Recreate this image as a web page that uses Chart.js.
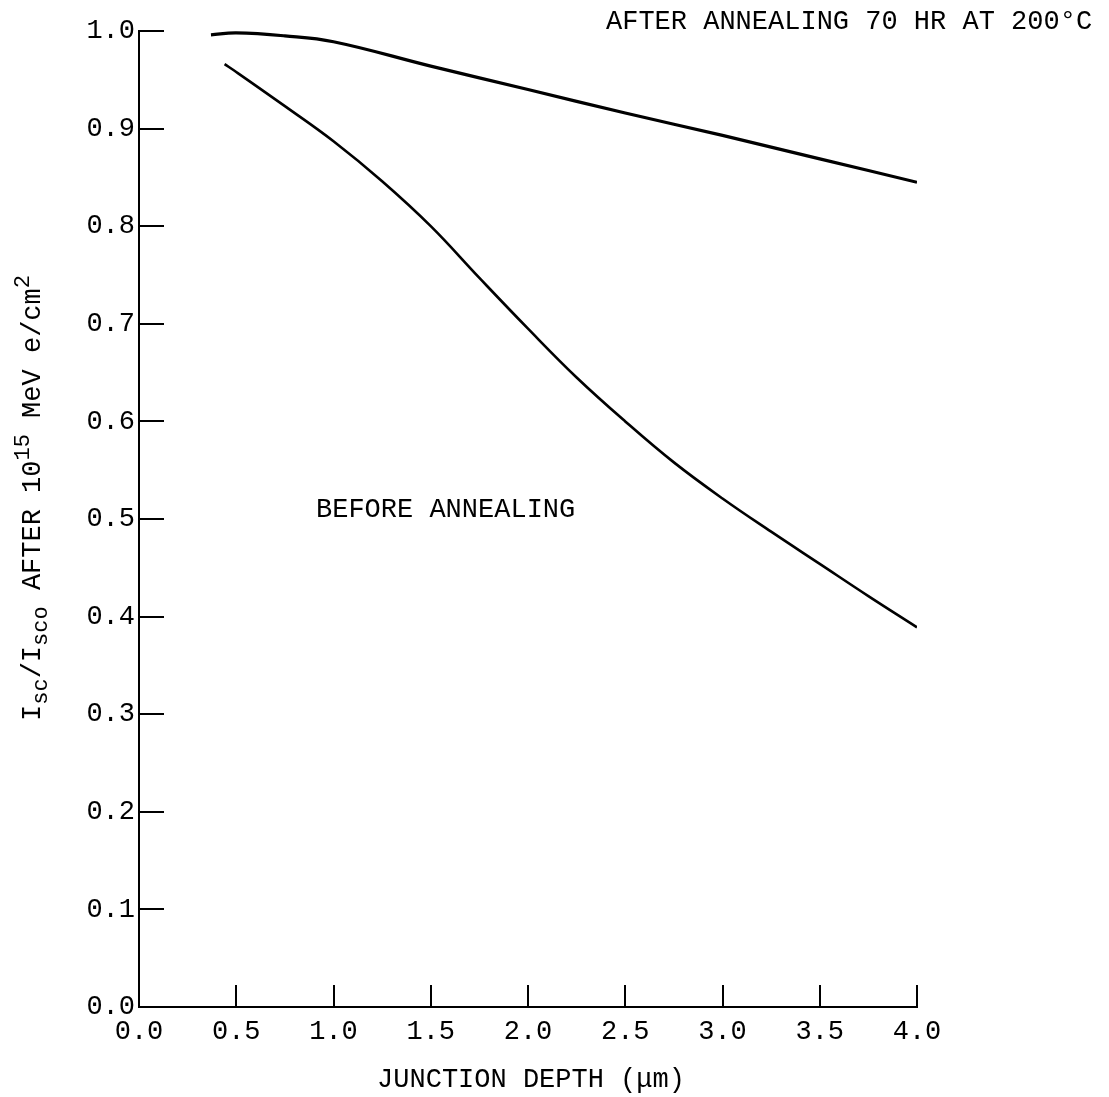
<!DOCTYPE html>
<html>
<head>
<meta charset="utf-8">
<script src="https://cdn.jsdelivr.net/npm/chart.js@4"></script>
<style>
  html, body { margin: 0; padding: 0; background: #fff; }
  #wrap { width: 1109px; height: 1097px; }
</style>
</head>
<body>
<div id="wrap"><canvas id="myChart"></canvas></div>
<script>
// junction depth (um) and Isc/Isco
const afterDepth = [0.37, 0.5, 0.75, 1.0, 1.5, 2.0, 2.5, 3.0, 3.5, 4.0]
const afterRatio = [0.996, 0.998, 0.995, 0.989, 0.964, 0.940, 0.916, 0.893, 0.869, 0.845]

const beforeDepth = [0.44, 0.5, 0.75, 1.0, 1.25, 1.5, 1.75, 2.0, 2.25, 2.5, 2.75, 3.0, 3.25, 3.5, 3.75, 4.0]
const beforeRatio = [0.966, 0.958, 0.923, 0.887, 0.846, 0.800, 0.747, 0.695, 0.645, 0.600, 0.558, 0.521, 0.487, 0.454, 0.421, 0.389]

const xTicks = [0.5, 1.0, 1.5, 2.0, 2.5, 3.0, 3.5, 4.0]
const yTicks = [0.1, 0.2, 0.3, 0.4, 0.5, 0.6, 0.7, 0.8, 0.9, 1.0]

const FONT = "'Liberation Mono', 'DejaVu Sans Mono', monospace"

const toPoints = (xs, ys) => xs.map((x, i) => ({ x: x, y: ys[i] }))

// tick marks drawn inward, plus the texts
const extras = {
    id: 'extras',
    afterDraw(chart) {
        const c = chart.ctx
        const xs = chart.scales.x
        const ys = chart.scales.y
        const x0 = xs.getPixelForValue(0)
        const y0 = ys.getPixelForValue(0)
        c.save()
        c.strokeStyle = '#000'
        c.lineWidth = 2
        c.beginPath()
        yTicks.forEach(v => {
            const py = Math.round(ys.getPixelForValue(v))
            c.moveTo(x0, py)
            c.lineTo(x0 + 25, py)
        })
        xTicks.forEach(v => {
            const px = Math.round(xs.getPixelForValue(v))
            c.moveTo(px, y0)
            c.lineTo(px, y0 - 22)
        })
        c.stroke()

        c.fillStyle = '#000'
        c.font = '27px ' + FONT
        c.textBaseline = 'middle'
        c.textAlign = 'left'
        c.fillText('AFTER ANNEALING 70 HR AT 200°C', 606, 22)
        c.fillText('BEFORE ANNEALING', 316, 510)
        c.textAlign = 'center'
        c.fillText('JUNCTION DEPTH (\u03BCm)', 531, 1080)

        // rotated y title with sub/superscripts
        const parts = [
            ['I', 0], ['sc', 1], ['/I', 0], ['sco', 1], [' AFTER 10', 0], ['15', -1], [' MeV e/cm', 0], ['2', -1]
        ]
        const big = '27px ' + FONT
        const small = '22px ' + FONT
        c.textAlign = 'left'
        c.textBaseline = 'alphabetic'
        let total = 0
        parts.forEach(p => {
            c.font = p[1] === 0 ? big : small
            total += c.measureText(p[0]).width
        })
        c.translate(40, 498)
        c.rotate(-Math.PI / 2)
        let pos = -total / 2
        parts.forEach(p => {
            c.font = p[1] === 0 ? big : small
            const dy = p[1] === 1 ? 7 : (p[1] === -1 ? -11 : 0)
            c.fillText(p[0], pos, dy)
            pos += c.measureText(p[0]).width
        })
        c.restore()
    }
}

const ctx = document.getElementById('myChart').getContext('2d')

const chart = new Chart(ctx, {
    type: 'line',
    data: {
        datasets: [{
            label: 'After annealing 70 hr at 200 C',
            data: toPoints(afterDepth, afterRatio),
            borderColor: '#000',
            borderWidth: 3.2,
            pointRadius: 0,
            tension: 0.4,
            fill: false
        }, {
            label: 'Before annealing',
            data: toPoints(beforeDepth, beforeRatio),
            borderColor: '#000',
            borderWidth: 2.6,
            pointRadius: 0,
            tension: 0.4,
            fill: false
        }]
    },
    options: {
        responsive: true,
        maintainAspectRatio: false,
        animation: false,
        layout: { padding: { left: 0, top: 31, right: 192, bottom: 0 } },
        plugins: {
            legend: { display: false },
            tooltip: { enabled: false }
        },
        scales: {
            x: {
                type: 'linear',
                min: 0,
                max: 4,
                afterFit: (scale) => { scale.height = 90 },
                afterBuildTicks: (scale) => { scale.ticks = [0].concat(xTicks).map(v => ({ value: v })) },
                grid: { display: false, drawTicks: false },
                border: { display: true, color: '#000', width: 2 },
                ticks: {
                    color: '#000',
                    padding: 9,
                    maxRotation: 0,
                    font: { family: FONT, size: 27 },
                    callback: (v) => Number(v).toFixed(1)
                }
            },
            y: {
                min: 0,
                max: 1,
                afterFit: (scale) => { scale.width = 139 },
                afterBuildTicks: (scale) => { scale.ticks = [0].concat(yTicks).map(v => ({ value: v })) },
                grid: { display: false, drawTicks: false },
                border: { display: true, color: '#000', width: 2 },
                ticks: {
                    color: '#000',
                    padding: 4,
                    font: { family: FONT, size: 27 },
                    callback: (v) => Number(v).toFixed(1)
                }
            }
        }
    },
    plugins: [extras]
})
</script>
</body>
</html>
